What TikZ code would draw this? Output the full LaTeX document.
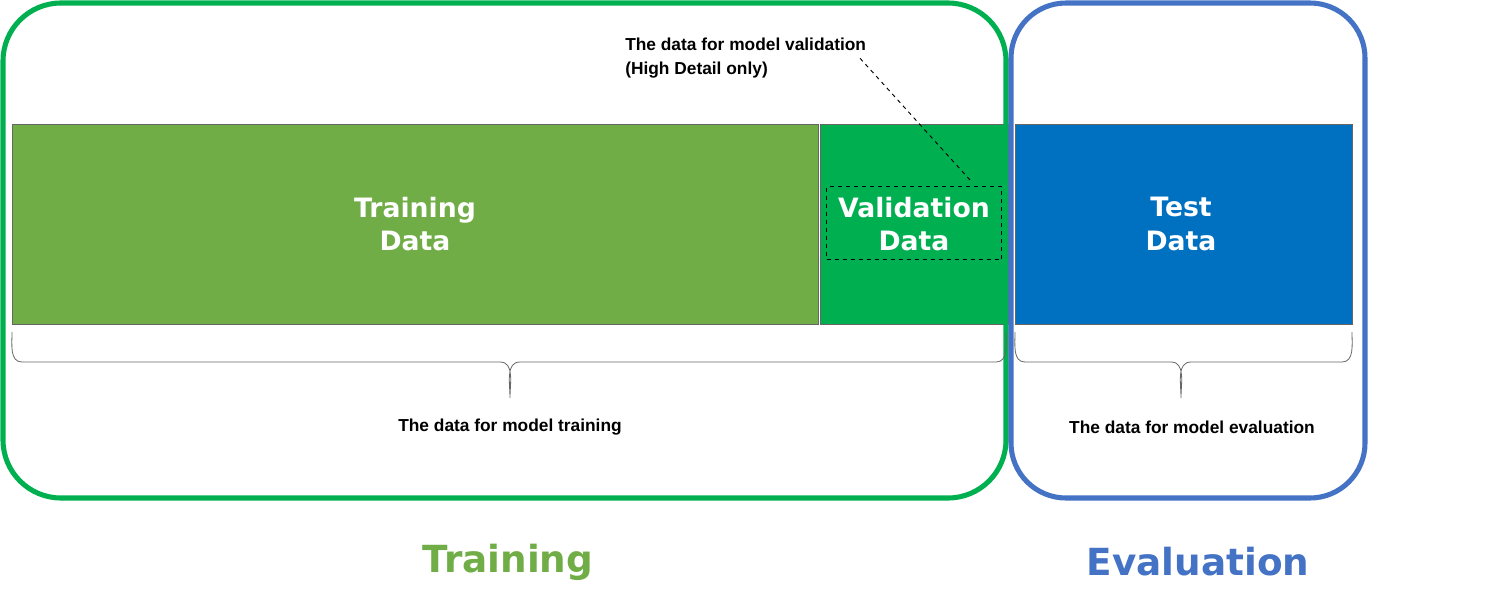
\documentclass[tikz,border=0pt]{standalone}
\usepackage{fontspec}
\setmainfont{Liberation Sans}
\newfontfamily\dv{DejaVu Sans}
\begin{document}
\begin{tikzpicture}[x=0.75pt,y=-0.75pt,
 blk/.style={draw=black!60,line width=0.6pt},
 big/.style={text=white,font=\dv\bfseries\fontsize{20}{25}\selectfont,align=center},
 sm/.style={font=\bfseries\fontsize{13}{18}\selectfont,align=left},
 brc/.style={draw=black!60,line width=0.6pt}]
\useasboundingbox (0,0) rectangle (1500,607);
\definecolor{gA}{RGB}{112,173,71}
\definecolor{gB}{RGB}{0,176,80}
\definecolor{bA}{RGB}{0,112,192}
\definecolor{bB}{RGB}{68,114,196}
\node[blk,fill=gA,minimum width=806*0.75pt,minimum height=200*0.75pt,inner sep=0,anchor=north west] (tr) at (12,124) {};
\node[blk,fill=gB,minimum width=188*0.75pt,minimum height=200*0.75pt,inner sep=0,anchor=north west] (va) at (820,124) {};
\node[blk,fill=bA,minimum width=337*0.75pt,minimum height=200*0.75pt,inner sep=0,anchor=north west] (te) at (1015,124) {};
\node[big] (trt) at (415,224) {Training\\Data};
\node[big] (vat) at (914,224) {Validation\\Data};
\node[big] (tet) at (1181,224) {Test\\Data};
\node[draw,dashed,line width=0.8pt,minimum width=175*0.75pt,minimum height=73*0.75pt,inner sep=0,anchor=north west] (db) at (826,186) {};
\node[sm,anchor=north west,inner sep=0] (vt) at (625,38) {The data for model validation\\(High Detail only)};
\coordinate (da) at (970,180);
\draw[dashed,line width=0.7pt] (da) -- (858,56);
\draw[line width=3.8pt,draw=gB,rounded corners=58*0.75pt] (3,3) rectangle (1006,498);
\draw[line width=3.8pt,draw=bB,rounded corners=55*0.75pt] (1011,3) rectangle (1365,498);
\draw[brc] (12,332) to[out=-90,in=180] (22,362) -- (500,362) to[out=0,in=90] (510,398) to[out=90,in=180] (520,362) -- (996,362) to[out=0,in=-90] (1006,332);
\draw[brc] (1015,332) to[out=-90,in=180] (1025,362) -- (1171,362) to[out=0,in=90] (1181,398) to[out=90,in=180] (1191,362) -- (1342,362) to[out=0,in=-90] (1352,332);
\node[sm] (l1) at (510,427) {The data for model training};
\node[sm] (l2) at (1192,427) {The data for model evaluation};
\node[text=gA,font=\dv\bfseries\fontsize{28}{32}\selectfont] (T) at (508,562) {Training};
\node[text=bB,font=\dv\bfseries\fontsize{28}{32}\selectfont] (E) at (1198,562) {Evaluation};
\end{tikzpicture}
\end{document}
